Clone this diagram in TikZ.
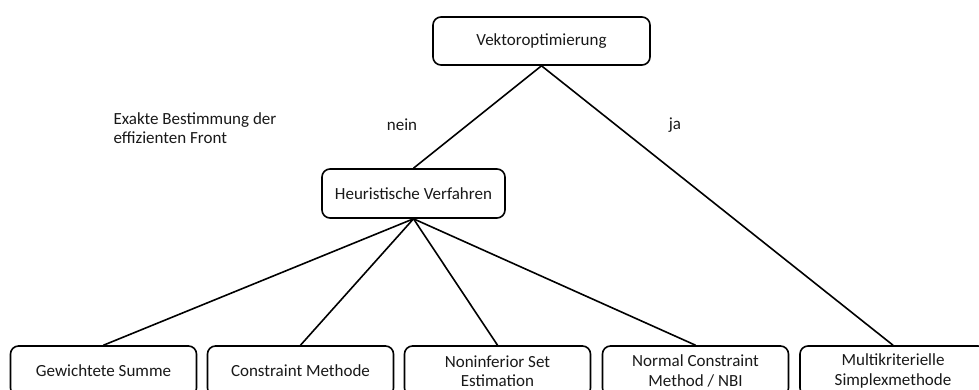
\documentclass[tikz,border=0pt]{standalone}
\usepackage{fontspec}
\setmainfont{Carlito}
\begin{document}
\begin{tikzpicture}[x=1pt,y=-1pt,
  every node/.style={font=\fontsize{17}{19.5}\selectfont, text=black!90},
  box/.style={draw=black, line width=1.6pt, rounded corners=8pt, align=center, inner sep=0pt},
  leaf/.style={box, minimum width=186pt, minimum height=50pt},
  link/.style={draw=black, line width=1.6pt}]
  \clip (0,0) rectangle (979,390);
  \fill[white] (0,0) rectangle (979,390);

  % top level and intermediate decision boxes
  \node[box, minimum width=217pt, minimum height=48pt] (vo) at (541.5,41) {Vektoroptimierung};
  \node[box, minimum width=183pt, minimum height=49pt] (hv) at (413.5,193.5) {Heuristische Verfahren};

  % leaf methods along the bottom edge (their lower edge runs past the page)
  \node[leaf] (gs) at (103.5,371) {Gewichtete Summe};
  \node[leaf] (cm) at (300.5,371) {Constraint Methode};
  \node[leaf] (ns) at (497.5,371) {Noninferior Set\\Estimation};
  \node[leaf] (nc) at (695.5,371) {Normal Constraint\\Method / NBI};
  \node[leaf] (ms) at (893,371) {Multikriterielle\\Simplexmethode};

  % branch labels
  \node[anchor=west, align=left] (ex) at (110,128) {Exakte Bestimmung der\\effizienten Front};
  \node (nein) at (402,125) {nein};
  \node (ja) at (675,125) {ja};

  % connectors
  \draw[link] (vo.south) -- (hv.north);
  \draw[link] (vo.south) -- (ms.north);
  \foreach \t in {gs,cm,ns,nc}
    \draw[link] (hv.south) -- (\t.north);
\end{tikzpicture}
\end{document}
